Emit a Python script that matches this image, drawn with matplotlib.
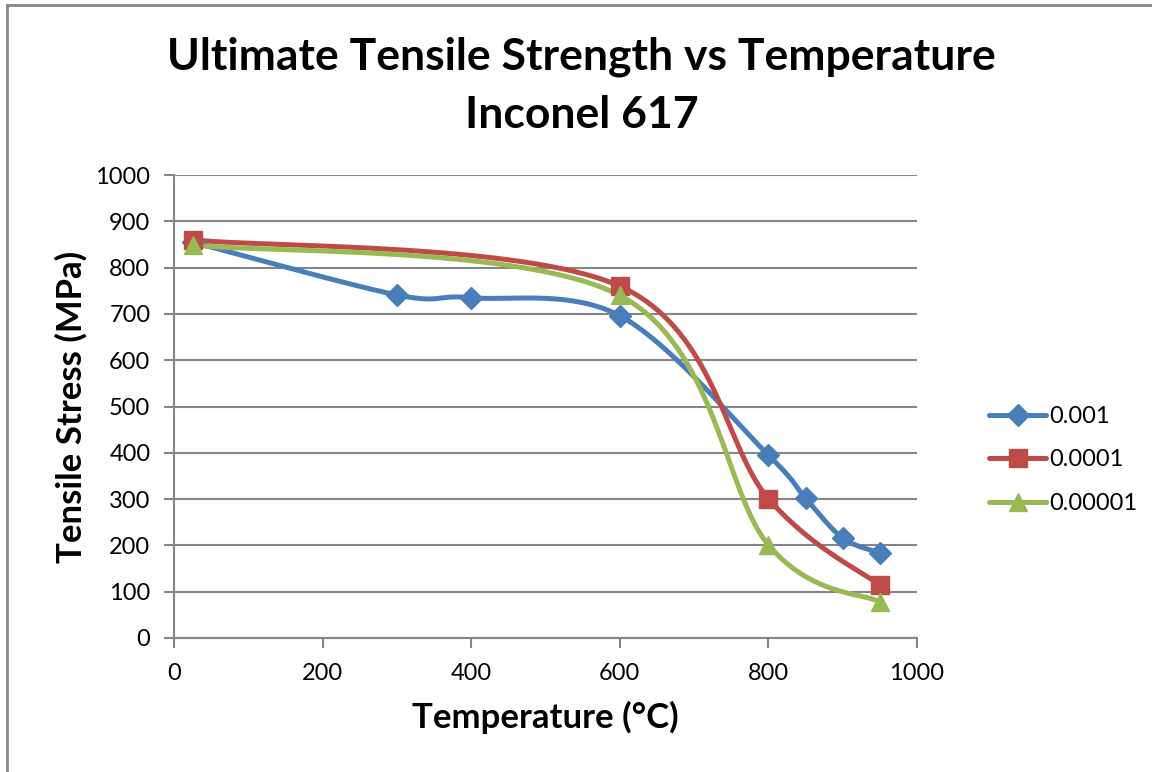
import numpy as np
import matplotlib
matplotlib.use('Agg')
import matplotlib.pyplot as plt
from matplotlib.lines import Line2D

plt.rcParams['font.family'] = ['Lato', 'DejaVu Sans']

# data
temp_001 = [25, 300, 400, 600, 800, 850, 900, 950]
uts_001 = [855, 741, 735, 696, 395, 302, 216, 184]
temp_0001 = [25, 600, 800, 950]
uts_0001 = [860, 760, 301, 114]
temp_00001 = [25, 600, 800, 950]
uts_00001 = [849, 740, 201, 78]

series = [
    ('0.001', temp_001, uts_001, '#4A7EBB', 'D', 11.5),
    ('0.0001', temp_0001, uts_0001, '#BE4B48', 's', 13),
    ('0.00001', temp_00001, uts_00001, '#98B954', '^', 13.5),
]


def smooth(xs, ys, n=40):
    # excel-style bezier smoothing through the points
    p = np.column_stack([xs, ys]).astype(float)
    p = np.vstack([p[0], p, p[-1]])
    out = []
    for i in range(1, len(p) - 2):
        p0, p1, p2, p3 = p[i - 1], p[i], p[i + 1], p[i + 2]
        c1 = p1 + (p2 - p0) / 6.0
        c2 = p2 - (p3 - p1) / 6.0
        t = np.linspace(0, 1, n)[:, None]
        seg = ((1 - t) ** 3) * p1 + 3 * ((1 - t) ** 2) * t * c1 + 3 * (1 - t) * t ** 2 * c2 + t ** 3 * p2
        out.append(seg if i == 1 else seg[1:])
    s = np.vstack(out)
    return s[:, 0], s[:, 1]


fig = plt.figure(figsize=(11.52, 7.72), dpi=100)
ax = fig.add_axes([174 / 1152, 1 - 638 / 772, (917 - 174) / 1152, (638 - 175) / 772])

grid_c = '#868686'
handles = []
for name, xs, ys, col, mk, ms in series:
    sx, sy = smooth(xs, ys)
    ax.plot(sx, sy, color=col, lw=3.6, solid_capstyle='round', zorder=3)
    ax.plot(xs, ys, ls='none', marker=mk, ms=ms, color=col, mec=col, zorder=4)
    handles.append(Line2D([], [], color=col, lw=3.6, marker=mk, ms=ms, mec=col,
                          solid_capstyle='round'))

ax.set_xlim(0, 1000)
ax.set_ylim(0, 1000)
ax.set_xticks(range(0, 1001, 200))
ax.set_yticks(range(0, 1001, 100))
ax.grid(axis='y', color=grid_c, lw=1.5)
ax.set_axisbelow(True)
for s in ['top', 'right']:
    ax.spines[s].set_visible(False)
for s in ['left', 'bottom']:
    ax.spines[s].set_color(grid_c)
    ax.spines[s].set_linewidth(1.5)
ax.tick_params(axis='both', direction='out', length=7, width=1.5, color=grid_c,
               labelsize=17, pad=10)
ax.tick_params(axis='x', pad=11)

ax.set_xlabel('Temperature (°C)', fontsize=25, fontweight='bold', labelpad=12)
ax.set_ylabel('Tensile Stress (MPa)', fontsize=25, fontweight='bold', labelpad=6)

fig.text(0.505, 1 - 57 / 772, 'Ultimate Tensile Strength vs Temperature',
         ha='center', va='center', fontsize=32, fontweight='bold')
fig.text(0.505, 1 - 115 / 772, 'Inconel 617',
         ha='center', va='center', fontsize=32, fontweight='bold')

ax.legend(handles, [s[0] for s in series], loc='center left',
          bbox_to_anchor=(980 / 1152, 1 - 460 / 772), bbox_transform=fig.transFigure,
          frameon=False, fontsize=17, handlelength=2.4, handletextpad=0.15,
          labelspacing=0.95, borderaxespad=0)

# outer chart border
fig.add_artist(Line2D([7 / 1152, 7 / 1152], [0, 1 - 5 / 772], color=grid_c, lw=2,
                      transform=fig.transFigure))
fig.add_artist(Line2D([7 / 1152, 1], [1 - 5 / 772, 1 - 5 / 772], color=grid_c, lw=2,
                      transform=fig.transFigure))

fig.savefig('out.png', dpi=100)
